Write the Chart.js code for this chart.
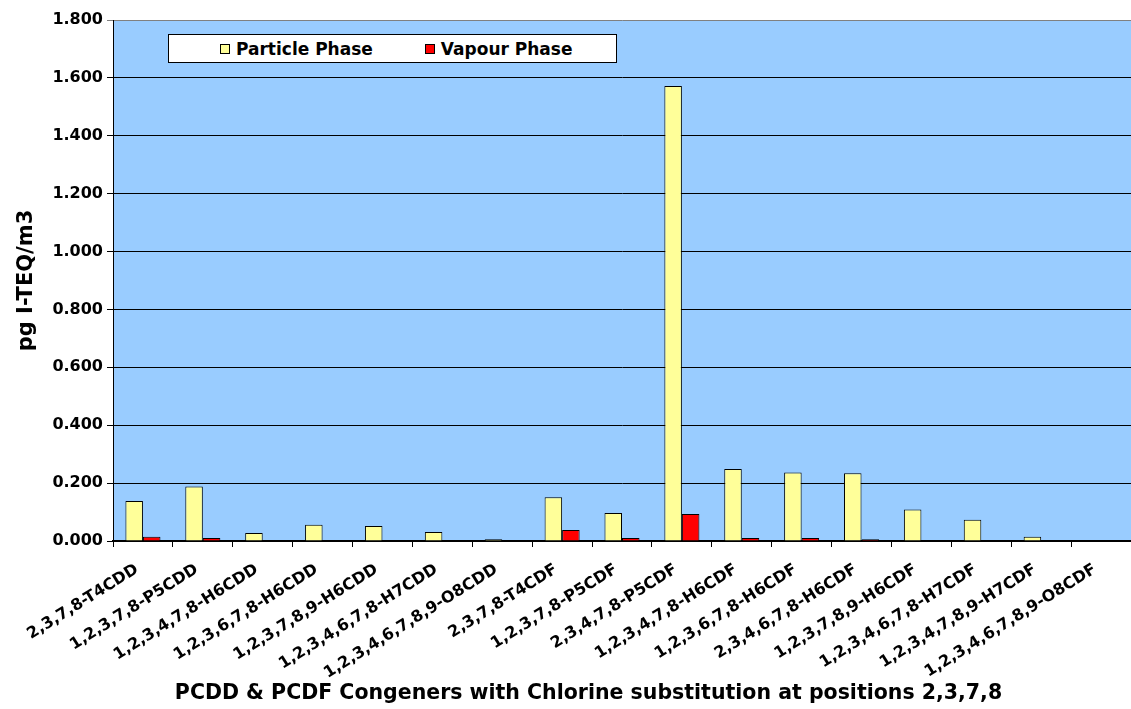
<!DOCTYPE html>
<html>
<head>
<meta charset="utf-8">
<script src="https://cdn.jsdelivr.net/npm/chart.js@4/dist/chart.umd.min.js"></script>
<style>
  html, body { margin: 0; padding: 0; background: #fff; }
  #wrap { position: relative; width: 1131px; height: 709px; }
  #legend {
    position: absolute; left: 168px; top: 34px; width: 396px; height: 27px;
    background: #fff; border: 1px solid #000;
    display: flex; align-items: center; padding-left: 51px; box-sizing: content-box;
    font: bold 17px "DejaVu Sans", sans-serif; color: #000; white-space: nowrap;
  }
  #legend .item { display: flex; align-items: center; flex-shrink: 0; margin-right: 52px; }
  #legend .item:last-child { margin-right: 0; }
  #legend .box { width: 8px; height: 8px; border: 1px solid #000; margin-right: 6px; flex-shrink: 0; }
</style>
</head>
<body>
<div id="wrap">
  <canvas id="chart" width="1131" height="709"></canvas>
  <div id="legend"></div>
</div>
<script>
const congeners = [
  '2,3,7,8-T4CDD', '1,2,3,7,8-P5CDD', '1,2,3,4,7,8-H6CDD', '1,2,3,6,7,8-H6CDD',
  '1,2,3,7,8,9-H6CDD', '1,2,3,4,6,7,8-H7CDD', '1,2,3,4,6,7,8,9-O8CDD',
  '2,3,7,8-T4CDF', '1,2,3,7,8-P5CDF', '2,3,4,7,8-P5CDF', '1,2,3,4,7,8-H6CDF',
  '1,2,3,6,7,8-H6CDF', '2,3,4,6,7,8-H6CDF', '1,2,3,7,8,9-H6CDF',
  '1,2,3,4,6,7,8-H7CDF', '1,2,3,4,7,8,9-H7CDF', '1,2,3,4,6,7,8,9-O8CDF'
];
const particlePhase = [0.138, 0.188, 0.028, 0.056, 0.052, 0.031, 0.006, 0.151, 0.097, 1.572,
                       0.249, 0.237, 0.234, 0.109, 0.073, 0.015, 0.002];
const vapourPhase = [0.015, 0.010, 0.002, 0.002, 0.002, 0.001, 0.002, 0.038, 0.010, 0.093,
                     0.010, 0.010, 0.006, 0.002, 0.001, 0.001, 0.002];

Chart.defaults.font.family = '"DejaVu Sans", sans-serif';
Chart.defaults.font.weight = 'bold';
Chart.defaults.color = '#000';

// light blue plot background
const plotBg = {
  id: 'plotBg',
  beforeDraw(chart) {
    const { ctx, chartArea: a } = chart;
    ctx.save();
    ctx.fillStyle = '#99CCFF';
    ctx.fillRect(a.left, a.top, a.right - a.left, a.bottom - a.top);
    ctx.restore();
  }
};

// the axis caption sits a bit right of the canvas centre in the original
const shiftCaption = {
  id: 'shiftCaption',
  afterLayout(chart) {
    chart.titleBlock.left += 23;
    chart.titleBlock.right += 23;
  }
};

const chart = new Chart(document.getElementById('chart'), {
  type: 'bar',
  data: {
    labels: congeners,
    datasets: [
      { label: 'Particle Phase', data: particlePhase, backgroundColor: '#FFFF99',
        borderColor: '#000', borderWidth: 1, categoryPercentage: 0.585, barPercentage: 1 },
      { label: 'Vapour Phase', data: vapourPhase, backgroundColor: '#FF0000',
        borderColor: '#000', borderWidth: 1, categoryPercentage: 0.585, barPercentage: 1 }
    ]
  },
  options: {
    responsive: false,
    animation: false,
    layout: { padding: { top: 20, right: 0, left: 0, bottom: 0 } },
    plugins: {
      legend: { display: false },
      tooltip: { enabled: false },
      title: {
        display: true,
        position: 'bottom',
        text: 'PCDD & PCDF Congeners with Chlorine substitution at positions 2,3,7,8',
        font: { size: 20.5, weight: 'bold' },
        padding: { top: 2, bottom: 3 }
      }
    },
    scales: {
      x: {
        afterFit(scale) { scale.height = 138.4; },
        grid: { drawOnChartArea: false, offset: true, tickLength: 6, color: '#000' },
        border: { color: '#000', width: 2 },
        ticks: { autoSkip: false, minRotation: 32, maxRotation: 32, padding: 13, labelOffset: -6,
                 font: { size: 16, weight: 'bold' } }
      },
      y: {
        min: 0,
        max: 1.8,
        afterFit(scale) { scale.width = 113; },
        grid: {
          color: ctx => (ctx.tick && Math.abs(ctx.tick.value - 1.8) < 1e-9) ? '#808080' : '#000',
          tickLength: 6
        },
        border: { color: '#000', width: 1 },
        ticks: { stepSize: 0.2, padding: 4, font: { size: 16, weight: 'bold' },
                 callback: v => Number(v).toFixed(3) },
        title: { display: true, text: 'pg I-TEQ/m3', font: { size: 21, weight: 'bold' },
                 padding: { top: 14, bottom: 0 } }
      }
    }
  },
  plugins: [plotBg, shiftCaption]
});

// legend box drawn in HTML, placed inside the plot like the original
const legendEl = document.getElementById('legend');
chart.data.datasets.forEach(ds => {
  const item = document.createElement('div');
  item.className = 'item';
  const box = document.createElement('span');
  box.className = 'box';
  box.style.background = ds.backgroundColor;
  item.appendChild(box);
  item.appendChild(document.createTextNode(ds.label));
  legendEl.appendChild(item);
});
</script>
</body>
</html>
